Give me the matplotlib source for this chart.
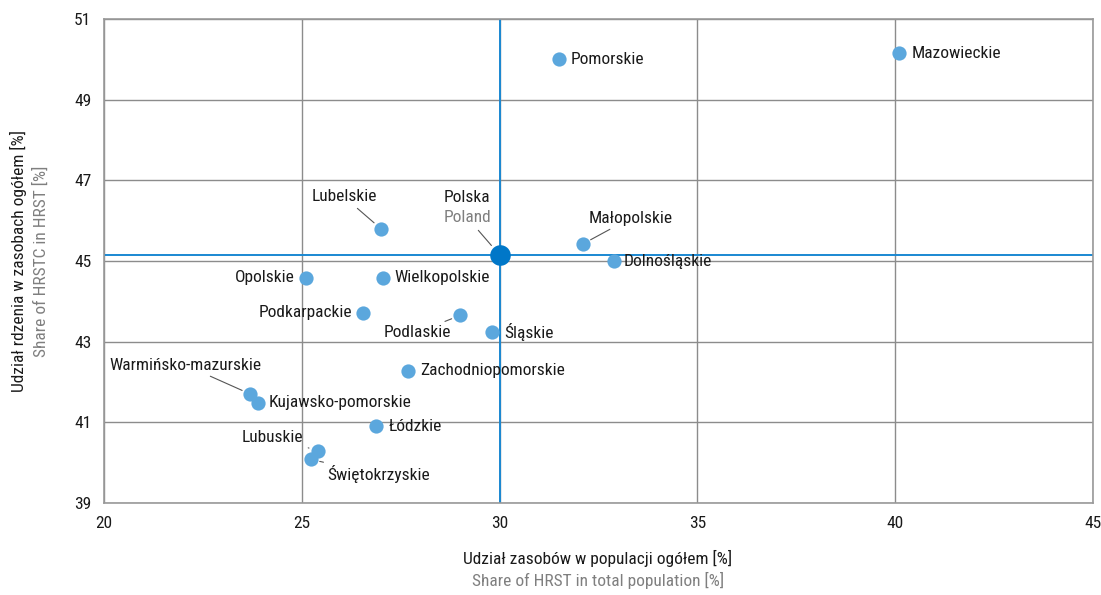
import matplotlib
matplotlib.use("Agg")
import matplotlib.pyplot as plt
from matplotlib import font_manager
import numpy as np

# Dane: udział zasobów w populacji (x) i udział rdzenia w zasobach (y)
regiony = ['Pomorskie', 'Mazowieckie', 'Lubelskie', 'Małopolskie', 'Dolnośląskie',
           'Opolskie', 'Wielkopolskie', 'Podkarpackie', 'Podlaskie', 'Śląskie',
           'Zachodniopomorskie', 'Warmińsko-mazurskie', 'Kujawsko-pomorskie',
           'Łódzkie', 'Lubuskie', 'Świętokrzyskie']
x_vals = [31.5, 40.1, 27.0, 32.1, 32.9, 25.1, 27.05, 26.55, 29.0, 29.82,
          27.68, 23.7, 23.9, 26.87, 25.4, 25.23]
y_vals = [50.0, 50.15, 45.8, 45.42, 45.0, 44.58, 44.58, 43.72, 43.65, 43.25,
          42.28, 41.7, 41.48, 40.9, 40.3, 40.08]
polska_x = 30.0
polska_y = 45.15

x_ticks = [20, 25, 30, 35, 40, 45]
y_ticks = [39, 41, 43, 45, 47, 49, 51]

# przesunięcia etykiet w pikselach (dx, dy, ha, leader)
etykiety = {
    'Pomorskie': (12, 0, 'left', False),
    'Mazowieckie': (12, 0, 'left', False),
    'Lubelskie': (-37, 32, 'center', True),
    'Małopolskie': (48, 26, 'center', True),
    'Dolnośląskie': (9, 0, 'left', False),
    'Opolskie': (-11, 0, 'right', False),
    'Wielkopolskie': (11, 0, 'left', False),
    'Podkarpackie': (-11, 0, 'right', False),
    'Podlaskie': (-43, -17, 'center', True),
    'Śląskie': (12, 0, 'left', False),
    'Zachodniopomorskie': (12, 0, 'left', False),
    'Warmińsko-mazurskie': (-65, 29, 'center', True),
    'Kujawsko-pomorskie': (10, 0, 'left', False),
    'Łódzkie': (13, 0, 'left', False),
    'Lubuskie': (-45, 13, 'center', True),
    'Świętokrzyskie': (68, -15, 'center', True),
}

# szukamy wąskiego kroju (jak w oryginale)
nazwy = set(f.name for f in font_manager.fontManager.ttflist)
waskie = [f for f in font_manager.fontManager.ttflist
          if ('Narrow' in f.name or 'Condensed' in f.name or f.stretch in ('condensed', 'semi-condensed'))
          and f.style == 'normal']
wybor = None
for cand in ['Liberation Sans Narrow', 'Roboto Condensed', 'Open Sans Condensed', 'DejaVu Sans Condensed']:
    if cand in nazwy:
        wybor = cand
        break
if wybor is not None:
    plt.rcParams['font.family'] = [wybor, 'DejaVu Sans']
elif waskie:
    plt.rcParams['font.family'] = [waskie[0].name, 'DejaVu Sans']
    plt.rcParams['font.stretch'] = 'condensed'
else:
    plt.rcParams['font.family'] = ['DejaVu Sans']
    plt.rcParams['font.stretch'] = 'condensed'

fs = 12.5
txt = '#1a1a1a'
szary = '#7f7f7f'
punkt = '#5ba7dd'
niebieski = '#1a88d2'
linia = '#555555'

fig = plt.figure(figsize=(11.01, 5.95), dpi=100)
ax = fig.add_axes([104 / 1101, 1 - 503 / 595, (1093 - 104) / 1101, (503 - 19) / 595])

ax.set_xlim(20, 45)
ax.set_ylim(39, 51)
ax.set_xticks(x_ticks)
ax.set_yticks(y_ticks)
ax.set_axisbelow(True)
ax.tick_params(length=0, labelsize=fs, colors=txt, pad=9)
ax.grid(True, color='#8c8c8c', linewidth=1.0)
for s in ax.spines.values():
    s.set_color('#999999')
    s.set_linewidth(1.2)

ax.axhline(polska_y, color=niebieski, linewidth=1.4, zorder=2)
ax.axvline(polska_x, color=niebieski, linewidth=1.4, zorder=2)

ax.scatter(x_vals, y_vals, s=105, color=punkt, zorder=3, linewidths=0)
ax.scatter([polska_x], [polska_y], s=220, color='#0077c8', zorder=4, linewidths=0)

for nazwa, x, y in zip(regiony, x_vals, y_vals):
    dx, dy, ha, leader = etykiety[nazwa]
    props = None
    if leader:
        props = dict(arrowstyle='-', color=linia, linewidth=0.8,
                     shrinkA=1.5, shrinkB=6.5)
    ax.annotate(nazwa, (x, y), xytext=(dx, dy), textcoords='offset pixels',
                ha=ha, va='center', color=txt, fontsize=fs,
                arrowprops=props, zorder=5)

# Polska / Poland
ax.annotate('Polska', (polska_x, polska_y), xytext=(-33, 57), textcoords='offset pixels',
            ha='center', va='center', color=txt, fontsize=fs, zorder=5)
ax.annotate('Poland', (polska_x, polska_y), xytext=(-32, 37), textcoords='offset pixels',
            ha='center', va='center', color=szary, fontsize=fs, zorder=5,
            arrowprops=dict(arrowstyle='-', color=linia, linewidth=0.8,
                            shrinkA=2, shrinkB=9))

# opisy osi
fig.text(598 / 1101, 1 - 558 / 595, 'Udział zasobów w populacji ogółem [%]',
         ha='center', va='center', color=txt, fontsize=fs)
fig.text(598 / 1101, 1 - 580 / 595, 'Share of HRST in total population [%]',
         ha='center', va='center', color=szary, fontsize=fs)
fig.text(18 / 1101, 1 - 261 / 595, 'Udział rdzenia w zasobach ogółem [%]',
         ha='center', va='center', rotation=90, color=txt, fontsize=fs)
fig.text(41 / 1101, 1 - 261 / 595, 'Share of HRSTC in HRST [%]',
         ha='center', va='center', rotation=90, color=szary, fontsize=fs)

fig.savefig('out.png', dpi=100)
